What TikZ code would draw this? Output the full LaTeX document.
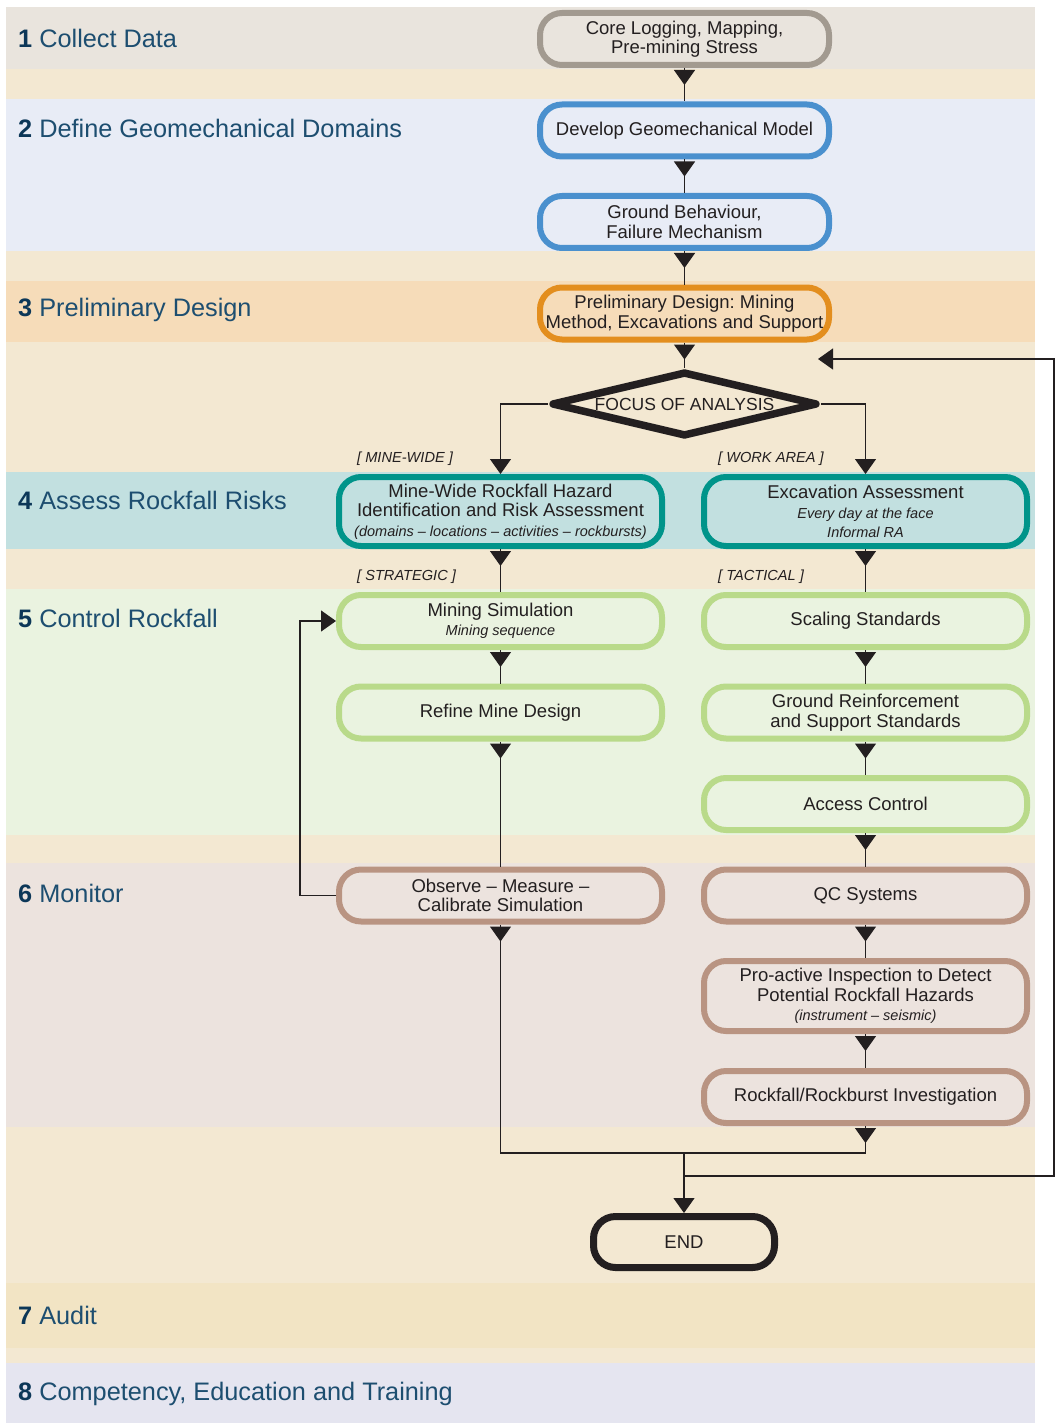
\documentclass[tikz,border=0pt]{standalone}
\usepackage{fontspec}
\setmainfont{Liberation Sans}
\usepackage{tikz}
\usetikzlibrary{shapes.geometric, arrows.meta}
\usetikzlibrary{positioning}
\usetikzlibrary{decorations.markings}
\frenchspacing
\definecolor{tanBg}{RGB}{243,232,210}
\definecolor{bandCollect}{RGB}{233,228,221}
\definecolor{bandDomain}{RGB}{232,236,246}
\definecolor{bandDesign}{RGB}{246,220,185}
\definecolor{bandRisk}{RGB}{194,224,224}
\definecolor{bandControl}{RGB}{234,243,224}
\definecolor{bandMonitor}{RGB}{236,227,222}
\definecolor{bandAudit}{RGB}{242,228,196}
\definecolor{bandTrain}{RGB}{229,229,240}
\definecolor{greyLine}{RGB}{162,154,144}
\definecolor{blueLine}{RGB}{74,144,206}
\definecolor{orangeLine}{RGB}{227,142,30}
\definecolor{tealLine}{RGB}{0,148,138}
\definecolor{greenLine}{RGB}{185,218,138}
\definecolor{brownLine}{RGB}{185,148,130}
\definecolor{textDark}{RGB}{35,31,32}
\definecolor{stageBlue}{RGB}{29,78,112}
\definecolor{stageNavy}{RGB}{12,55,88}
\newcommand{\boxFont}{\fontsize{18.5}{19.5}\selectfont}
\newcommand{\noteLine}[1]{{\fontsize{14.5}{19.5}\selectfont\itshape #1}}
\newcommand{\stageNum}[1]{{\bfseries\color{stageNavy}#1}}
\tikzstyle{stepBox} = [rounded corners=22pt, line width=6pt, minimum width=289pt, minimum height=52pt, align=center, text=textDark, font=\boxFont, inner sep=2pt]
\tikzstyle{sideBox} = [stepBox, minimum width=323pt]
\tikzstyle{greyBox} = [stepBox, draw=greyLine, fill=bandCollect]
\tikzstyle{blueBox} = [stepBox, draw=blueLine, fill=bandDomain]
\tikzstyle{orangeBox} = [stepBox, draw=orangeLine, fill=bandDesign]
\tikzstyle{tealBox} = [sideBox, draw=tealLine, fill=bandRisk, minimum height=69pt]
\tikzstyle{greenBox} = [sideBox, draw=greenLine, fill=bandControl]
\tikzstyle{brownBox} = [sideBox, draw=brownLine, fill=bandMonitor]
\tikzstyle{endBox} = [stepBox, draw=textDark, fill=tanBg, line width=7pt, minimum width=181pt, minimum height=51pt]
\tikzstyle{decision} = [diamond, aspect=4, draw=textDark, fill=tanBg, line width=7.5pt, line join=round, minimum width=266pt, minimum height=65pt, inner sep=0pt, text=textDark, font=\fontsize{17.5}{19}\selectfont]
\tikzstyle{stage} = [anchor=west, inner sep=0pt, text=stageBlue, font=\fontsize{25.3}{30}\selectfont]
\tikzstyle{tag} = [anchor=west, inner sep=0pt, text=textDark, font=\fontsize{14.6}{16}\selectfont\itshape]
\tikzstyle{arrow} = [line width=1.2pt, color=textDark, -{Triangle[width=21pt,length=15pt]}]
\tikzstyle{flow} = [line width=1.2pt, color=textDark, postaction={decorate}, decoration={markings, mark=at position 17pt with {\arrow{Triangle[width=21pt,length=15pt]}}}]

\begin{document}
\begin{tikzpicture}[x=1pt, y=-1pt, node distance=91.5pt]
\useasboundingbox (0,0) rectangle (1055,1423);
% bands
\fill [tanBg] (6,7) rectangle (1035,1423);
\fill [bandCollect] (6,7) rectangle (1035,69);
\fill [bandDomain] (6,99) rectangle (1035,251);
\fill [bandDesign] (6,281) rectangle (1035,342);
\fill [bandRisk] (6,472) rectangle (1035,549);
\fill [bandControl] (6,589) rectangle (1035,835);
\fill [bandMonitor] (6,863) rectangle (1035,1127);
\fill [bandAudit] (6,1283) rectangle (1035,1348);
\fill [bandTrain] (6,1363) rectangle (1035,1423);

\node (stage1) [stage] at (18,38) {\stageNum{1} Collect Data};
\node (stage2) [stage] at (18,128) {\stageNum{2} Define Geomechanical Domains};
\node (stage3) [stage] at (18,310) {\stageNum{3} Preliminary Design};
\node (stage4) [stage] at (18,500) {\stageNum{4} Assess Rockfall Risks};
\node (stage5) [stage] at (18,618) {\stageNum{5} Control Rockfall};
\node (stage6) [stage] at (18,893) {\stageNum{6} Monitor};
\node (stage7) [stage] at (18,1315) {\stageNum{7} Audit};
\node (stage8) [stage] at (18,1394) {\stageNum{8} Competency, Education and Training};

% main column
\node (core) [greyBox] at (684.5,39) {Core Logging, Mapping,\\Pre-mining Stress};
\node (model) [blueBox, below of = core] {Develop Geomechanical Model};
\node (ground) [blueBox, below of = model] {Ground Behaviour,\\Failure Mechanism};
\node (prelim) [orangeBox, below of = ground] {Preliminary Design: Mining\\Method, Excavations and Support};
\node (focus) [decision, below of = prelim, yshift=1pt] {FOCUS OF ANALYSIS};

% strategic side
\node (mineWide) [tealBox, below of = focus, xshift=-184pt, yshift=-16pt] {Mine-Wide Rockfall Hazard\\Identification and Risk Assessment\\\noteLine{(domains – locations – activities – rockbursts)}};
\node (mineSim) [greenBox, below of = mineWide, yshift=-18pt] {Mining Simulation\\\noteLine{Mining sequence}};
\node (refine) [greenBox, below of = mineSim] {Refine Mine Design};
\node (observe) [brownBox, below of = refine, yshift=-91.5pt] {Observe – Measure –\\Calibrate Simulation};

% tactical side
\node (excav) [tealBox, below of = focus, xshift=181pt, yshift=-16pt] {Excavation Assessment\\\noteLine{Every day at the face}\\\noteLine{Informal RA}};
\node (scaling) [greenBox, below of = excav, yshift=-18pt] {Scaling Standards};
\node (support) [greenBox, below of = scaling] {Ground Reinforcement\\and Support Standards};
\node (access) [greenBox, below of = support] {Access Control};
\node (qc) [brownBox, below of = access] {QC Systems};
\node (inspect) [brownBox, below of = qc, yshift=-9pt, minimum height=70pt] {Pro-active Inspection to Detect\\Potential Rockfall Hazards\\\noteLine{(instrument – seismic)}};
\node (investigate) [brownBox, below of = inspect, yshift=-9.5pt] {Rockfall/Rockburst Investigation};
\node (finish) [endBox, below of = investigate, xshift=-181.5pt, yshift=-53.5pt] {END};

\node (mineTag) [tag] at (357,459) {[ MINE-WIDE ]};
\node (areaTag) [tag] at (718,459) {[ WORK AREA ]};
\node (strategicTag) [tag] at (357,577) {[ STRATEGIC ]};
\node (tacticalTag) [tag] at (718,577) {[ TACTICAL ]};

\coordinate (merge) at (684,1153);
\coordinate (split) at (684,1176);
\coordinate (loopCorner) at (1054,359);
\coordinate (loopEnd) at (818,359);

\draw [flow] (core.south) -- (model.north);
\draw [flow] (model.south) -- (ground.north);
\draw [flow] (ground.south) -- (prelim.north);
\draw [flow] (prelim.south) -- (focus.north);
\draw [arrow] (focus.west) -| (mineWide.north);
\draw [arrow] (focus.east) -| (excav.north);
\draw [flow] (mineWide.south) -- (mineSim.north);
\draw [flow] (mineSim.south) -- (refine.north);
\draw [flow] (refine.south) -- (observe.north);
\draw [arrow] (observe.west) -- ++(-36,0) |- (mineSim.west);
\draw [flow] (excav.south) -- (scaling.north);
\draw [flow] (scaling.south) -- (support.north);
\draw [flow] (support.south) -- (access.north);
\draw [flow] (access.south) -- (qc.north);
\draw [flow] (qc.south) -- (inspect.north);
\draw [flow] (inspect.south) -- (investigate.north);
\draw [flow] (observe.south) |- (merge);
\draw [flow] (investigate.south) |- (merge);
\draw [arrow] (merge) -- (finish.north);
\draw [arrow] (split) -| (loopCorner) -- (loopEnd);
\end{tikzpicture}
\end{document}
